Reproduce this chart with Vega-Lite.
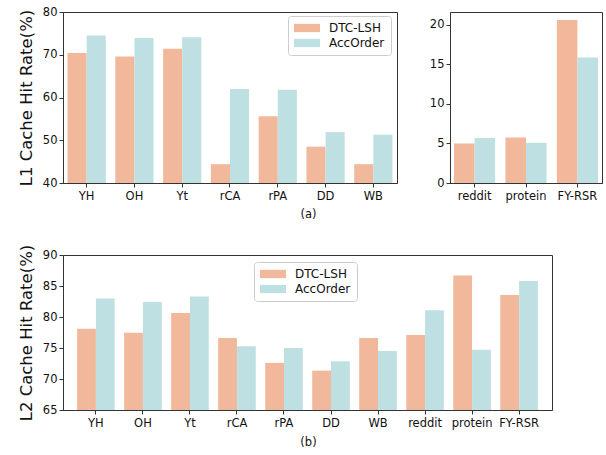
{
  "$schema": "https://vega.github.io/schema/vega-lite/v6.json",
  "padding": {"left": 17, "top": 5, "right": 5, "bottom": 5},
  "background": "white",
  "spacing": 23,
  "config": {
    "font": "DejaVu Sans",
    "view": {"stroke": "#333", "strokeWidth": 1},
    "axis": {
      "domainColor": "#333",
      "tickColor": "#333",
      "tickSize": 4,
      "labelPadding": 2,
      "labelFont": "DejaVu Sans",
      "labelFontSize": 11.5,
      "labelColor": "#111",
      "titleFont": "DejaVu Sans",
      "titleFontWeight": "normal",
      "titleColor": "#111",
      "grid": false
    },
    "legend": {
      "orient": "none",
      "title": null,
      "labelFont": "DejaVu Sans",
      "labelFontSize": 12,
      "labelColor": "#111",
      "symbolType": "M-2.2,-0.7H2.2V0.7H-2.2Z",
      "symbolSize": 140,
      "symbolOffset": 7,
      "symbolStrokeWidth": 0,
      "symbolOpacity": 1,
      "labelOffset": 16,
      "rowPadding": 3,
      "padding": 6,
      "strokeColor": "#cccccc",
      "fillColor": "white",
      "cornerRadius": 3
    }
  },
  "datasets": {
    "l1a": [
      {"cat": "YH", "method": "DTC-LSH", "value": 70.4},
      {"cat": "YH", "method": "AccOrder", "value": 74.5},
      {"cat": "OH", "method": "DTC-LSH", "value": 69.6},
      {"cat": "OH", "method": "AccOrder", "value": 73.9},
      {"cat": "Yt", "method": "DTC-LSH", "value": 71.4},
      {"cat": "Yt", "method": "AccOrder", "value": 74.1},
      {"cat": "rCA", "method": "DTC-LSH", "value": 44.4},
      {"cat": "rCA", "method": "AccOrder", "value": 62.0},
      {"cat": "rPA", "method": "DTC-LSH", "value": 55.6},
      {"cat": "rPA", "method": "AccOrder", "value": 61.8},
      {"cat": "DD", "method": "DTC-LSH", "value": 48.5},
      {"cat": "DD", "method": "AccOrder", "value": 51.9},
      {"cat": "WB", "method": "DTC-LSH", "value": 44.4},
      {"cat": "WB", "method": "AccOrder", "value": 51.3}
    ],
    "l1b": [
      {"cat": "reddit", "method": "DTC-LSH", "value": 5.0},
      {"cat": "reddit", "method": "AccOrder", "value": 5.67},
      {"cat": "protein", "method": "DTC-LSH", "value": 5.76},
      {"cat": "protein", "method": "AccOrder", "value": 5.08},
      {"cat": "FY-RSR", "method": "DTC-LSH", "value": 20.6},
      {"cat": "FY-RSR", "method": "AccOrder", "value": 15.84}
    ],
    "l2": [
      {"cat": "YH", "method": "DTC-LSH", "value": 78.1},
      {"cat": "YH", "method": "AccOrder", "value": 83.0},
      {"cat": "OH", "method": "DTC-LSH", "value": 77.45},
      {"cat": "OH", "method": "AccOrder", "value": 82.4},
      {"cat": "Yt", "method": "DTC-LSH", "value": 80.65},
      {"cat": "Yt", "method": "AccOrder", "value": 83.3},
      {"cat": "rCA", "method": "DTC-LSH", "value": 76.6},
      {"cat": "rCA", "method": "AccOrder", "value": 75.3},
      {"cat": "rPA", "method": "DTC-LSH", "value": 72.6},
      {"cat": "rPA", "method": "AccOrder", "value": 75.0},
      {"cat": "DD", "method": "DTC-LSH", "value": 71.35},
      {"cat": "DD", "method": "AccOrder", "value": 72.85},
      {"cat": "WB", "method": "DTC-LSH", "value": 76.6},
      {"cat": "WB", "method": "AccOrder", "value": 74.5},
      {"cat": "reddit", "method": "DTC-LSH", "value": 77.1},
      {"cat": "reddit", "method": "AccOrder", "value": 81.1},
      {"cat": "protein", "method": "DTC-LSH", "value": 86.7},
      {"cat": "protein", "method": "AccOrder", "value": 74.7},
      {"cat": "FY-RSR", "method": "DTC-LSH", "value": 83.55},
      {"cat": "FY-RSR", "method": "AccOrder", "value": 85.8}
    ]
  },
  "resolve": {"scale": {"color": "independent", "x": "independent", "y": "independent", "xOffset": "independent"}, "legend": {"color": "independent"}},
  "vconcat": [
    {
      "hconcat": [
        {
          "width": 334,
          "height": 171,
          "data": {"name": "l1a"},
          "mark": {"type": "bar"},
          "encoding": {
            "x": {
              "field": "cat", "type": "nominal",
              "sort": ["YH", "OH", "Yt", "rCA", "rPA", "DD", "WB"],
              "scale": {"paddingInner": 0.2, "paddingOuter": 0.095},
              "axis": {"labelAngle": 0, "title": "(a)", "titleFontSize": 11.5, "titleX": 245, "titleY": 31, "titleBaseline": "middle", "labelPadding": 3}
            },
            "xOffset": {
              "field": "method", "type": "nominal",
              "sort": ["DTC-LSH", "AccOrder"],
              "scale": {"paddingInner": 0, "paddingOuter": 0}
            },
            "y": {
              "field": "value", "type": "quantitative",
              "scale": {"domain": [40, 80], "zero": false, "nice": false},
              "axis": {"values": [40, 50, 60, 70, 80], "title": "L1 Cache Hit Rate(%)", "titleFontSize": 16.5, "titlePadding": 8}
            },
            "y2": {"datum": 40},
            "color": {
              "field": "method", "type": "nominal",
              "scale": {"domain": ["DTC-LSH", "AccOrder"], "range": ["#F2B89B", "#BEE0E3"]},
              "legend": {"legendX": 225, "legendY": 4}
            }
          }
        },
        {
          "width": 152,
          "height": 171,
          "data": {"name": "l1b"},
          "mark": {"type": "bar"},
          "encoding": {
            "x": {
              "field": "cat", "type": "nominal",
              "sort": ["reddit", "protein", "FY-RSR"],
              "scale": {"paddingInner": 0.2, "paddingOuter": 0.078},
              "axis": {"labelAngle": 0, "title": null, "labelPadding": 3}
            },
            "xOffset": {
              "field": "method", "type": "nominal",
              "sort": ["DTC-LSH", "AccOrder"],
              "scale": {"paddingInner": 0, "paddingOuter": 0}
            },
            "y": {
              "field": "value", "type": "quantitative",
              "scale": {"domain": [0, 21.6], "nice": false},
              "axis": {"values": [0, 5, 10, 15, 20], "title": null}
            },
            "color": {
              "field": "method", "type": "nominal",
              "scale": {"domain": ["DTC-LSH", "AccOrder"], "range": ["#F2B89B", "#BEE0E3"]},
              "legend": null
            }
          }
        }
      ],
      "spacing": 30,
      "resolve": {"scale": {"color": "independent", "x": "independent", "y": "independent", "xOffset": "independent"}, "legend": {"color": "independent"}}
    },
    {
      "width": 489,
      "height": 155,
      "data": {"name": "l2"},
      "mark": {"type": "bar"},
      "encoding": {
        "x": {
          "field": "cat", "type": "nominal",
          "sort": ["YH", "OH", "Yt", "rCA", "rPA", "DD", "WB", "reddit", "protein", "FY-RSR"],
          "scale": {"paddingInner": 0.2, "paddingOuter": 0.3},
          "axis": {"labelAngle": 0, "title": "(b)", "titleFontSize": 11.5, "titleX": 245, "titleY": 32, "titleBaseline": "middle", "labelPadding": 3}
        },
        "xOffset": {
          "field": "method", "type": "nominal",
          "sort": ["DTC-LSH", "AccOrder"],
          "scale": {"paddingInner": 0, "paddingOuter": 0}
        },
        "y": {
          "field": "value", "type": "quantitative",
          "scale": {"domain": [65, 90], "zero": false, "nice": false},
          "axis": {"values": [65, 70, 75, 80, 85, 90], "title": "L2 Cache Hit Rate(%)", "titleFontSize": 16.5, "titlePadding": 8}
        },
        "y2": {"datum": 65},
        "color": {
          "field": "method", "type": "nominal",
          "scale": {"domain": ["DTC-LSH", "AccOrder"], "range": ["#F2B89B", "#BEE0E3"]},
          "legend": {"legendX": 191, "legendY": 7}
        }
      }
    }
  ]
}
